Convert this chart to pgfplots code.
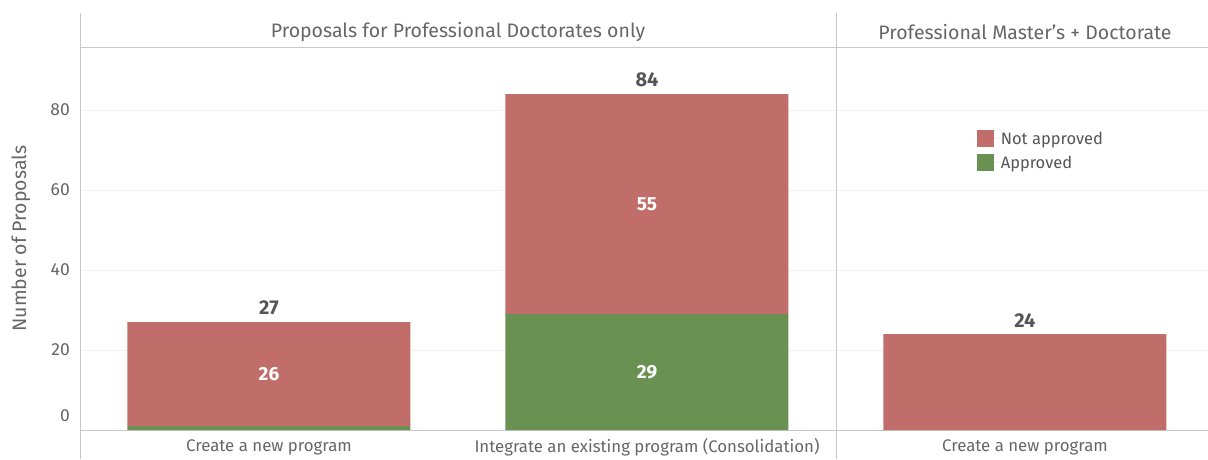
\documentclass[border=0pt]{standalone}
\usepackage{pgfplots}
\pgfplotsset{compat=1.18}
\usepackage{fontspec}
\setmainfont{Fira Sans}
\definecolor{notapp}{HTML}{C16E6A}
\definecolor{app}{HTML}{689152}
\definecolor{txt}{HTML}{666666}
\definecolor{tot}{HTML}{555555}
\definecolor{frame}{HTML}{C8C8C8}
\definecolor{gridc}{HTML}{F0F0F0}
\begin{document}
\begin{tikzpicture}
\path[use as bounding box] (-80pt,-29pt) rectangle (1128pt,430pt);
\begin{axis}[
  at={(0,0)}, anchor=south west,
  scale only axis, width=1134pt, height=383pt,
  xmin=-0.5, xmax=2.5, ymin=0, ymax=95.75,
  ybar stacked, bar width=283pt,
  axis line style={draw=none},
  major tick length=0pt,
  /pgf/number format/assume math mode=true,
  xtick={0,1,2},
  xticklabels={Create a new program, Integrate an existing program (Consolidation), Create a new program},
  xticklabel style={anchor=center, inner sep=0pt, yshift=-17pt, font=\fontsize{16.8}{18}\selectfont, text=txt},
  ytick={20,40,60,80},
  extra y ticks={0},
  extra y tick style={yticklabel style={yshift=14pt}, grid=none},
  yticklabel style={inner sep=0pt, xshift=-10pt, anchor=east, font=\fontsize{17.5}{19}\selectfont, text=txt},
  ymajorgrids, grid style={gridc, line width=0.8pt},
  ylabel={Number of Proposals},
  every axis y label/.style={at={(axis description cs:0,0.5)}, xshift=-59pt, rotate=90, anchor=center, font=\fontsize{19.5}{21}\selectfont, text=txt},
  clip=false,
  legend style={draw=none, fill=none, at={(axis cs:1.872,75)}, anchor=north west, inner sep=0pt, row sep=7pt, font=\fontsize{16.5}{18}\selectfont, text=tot, nodes={inner sep=0pt, anchor=west}},
  legend cell align=left,
  reverse legend,
  legend image code/.code={\fill[#1] (0pt,-8.5pt) rectangle (17pt,8.5pt); \path (17pt,0) -- (24pt,0);},
]
\addplot[fill=app, draw=none] coordinates {(0,1) (1,29) (2,0)};
\addlegendentry{Approved}
\addplot[fill=notapp, draw=none] coordinates {(0,26) (1,55) (2,24)};
\addlegendentry{Not approved}
% frame lines
\draw[frame, line width=0.8pt] (axis cs:-0.5,-7.25) -- (axis cs:-0.5,104.25);
\draw[frame, line width=0.8pt] (axis cs:1.5,-7.25) -- (axis cs:1.5,104.25);
\draw[frame, line width=0.8pt] (axis cs:-0.5,0) -- (axis cs:2.5,0);
\draw[frame, line width=0.8pt] (axis cs:-0.5,95.75) -- (axis cs:2.5,95.75);
% headers
\node[text=txt, font=\fontsize{19.5}{21}\selectfont] at (axis cs:0.5,99.6) {Proposals for Professional Doctorates only};
\node[text=txt, font=\fontsize{19.5}{21}\selectfont] at (axis cs:2,99.6) {Professional Master’s + Doctorate};
% totals
\node[text=tot, font=\bfseries\fontsize{20}{22}\selectfont] at (axis cs:0,30.5) {27};
\node[text=tot, font=\bfseries\fontsize{20}{22}\selectfont] at (axis cs:1,87.6) {84};
\node[text=tot, font=\bfseries\fontsize{20}{22}\selectfont] at (axis cs:2,27.4) {24};
% segment label positions
\coordinate (s1) at (axis cs:0,14);
\coordinate (s2) at (axis cs:1,56.5);
\coordinate (s3) at (axis cs:1,14.5);
\end{axis}
\node[text=white, font=\bfseries\fontsize{19}{21}\selectfont] at (s1) {26};
\node[text=white, font=\bfseries\fontsize{19}{21}\selectfont] at (s2) {55};
\node[text=white, font=\bfseries\fontsize{19}{21}\selectfont] at (s3) {29};
\end{tikzpicture}
\end{document}
